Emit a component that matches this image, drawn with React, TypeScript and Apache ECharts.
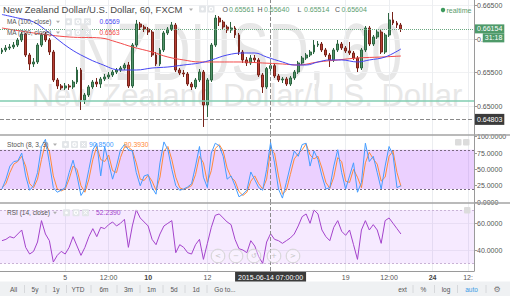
import React, { useEffect, useRef } from "react";
import * as echarts from "echarts";

const FONT = "'Liberation Sans', Arial, sans-serif";

// hourly candles: [open, close, low, high]
const candles: number[][] = [
  [0.65809, 0.65839, 0.65779, 0.65869], [0.65839, 0.65869, 0.65809, 0.65913], [0.65869, 0.65884, 0.65839, 0.65928],
  [0.65884, 0.65913, 0.65854, 0.65958], [0.65913, 0.65988, 0.65884, 0.66018], [0.65988, 0.66078, 0.65958, 0.66107],
  [0.66078, 0.65764, 0.65734, 0.66093], [0.65764, 0.6563, 0.6554, 0.65794], [0.6563, 0.6566, 0.65585, 0.65719],
  [0.6566, 0.65913, 0.6563, 0.65943], [0.65913, 0.66063, 0.65884, 0.66093], [0.66063, 0.65988, 0.65958, 0.66107],
  [0.65988, 0.65809, 0.65764, 0.66018], [0.65809, 0.65391, 0.65361, 0.65839], [0.65391, 0.65302, 0.65257, 0.65421],
  [0.65302, 0.65272, 0.65242, 0.65331], [0.65272, 0.65302, 0.65242, 0.65346], [0.65302, 0.65287, 0.65242, 0.65331],
  [0.65287, 0.65361, 0.65257, 0.65391], [0.65361, 0.6554, 0.65331, 0.65585], [0.6554, 0.65093, 0.64943, 0.6557],
  [0.65093, 0.65167, 0.65033, 0.65197], [0.65167, 0.65287, 0.65137, 0.65316], [0.65287, 0.65361, 0.65257, 0.65391],
  [0.65361, 0.65331, 0.65287, 0.65421], [0.65331, 0.65406, 0.65272, 0.65436], [0.65406, 0.65436, 0.65376, 0.65481],
  [0.65436, 0.65466, 0.65406, 0.6551], [0.65466, 0.6551, 0.65436, 0.6554], [0.6551, 0.6554, 0.65481, 0.6557],
  [0.6554, 0.6557, 0.6551, 0.656], [0.6557, 0.65615, 0.6554, 0.65645], [0.65615, 0.65302, 0.65272, 0.6566],
  [0.65302, 0.65913, 0.65272, 0.65943], [0.65913, 0.66227, 0.65884, 0.66287], [0.66227, 0.66182, 0.66137, 0.66257],
  [0.66182, 0.66152, 0.66107, 0.66212], [0.66152, 0.66107, 0.66063, 0.66182], [0.66107, 0.65764, 0.65734, 0.66137],
  [0.65764, 0.6563, 0.656, 0.65809], [0.6563, 0.65839, 0.656, 0.65869], [0.65839, 0.66093, 0.65809, 0.66122],
  [0.66093, 0.66152, 0.66063, 0.66182], [0.66152, 0.66212, 0.66122, 0.66257], [0.66212, 0.6554, 0.6551, 0.66242],
  [0.6554, 0.65496, 0.65466, 0.6557], [0.65496, 0.65481, 0.65436, 0.6554], [0.65481, 0.65331, 0.65302, 0.6551],
  [0.65331, 0.65287, 0.65242, 0.65361], [0.65287, 0.65391, 0.65257, 0.65421], [0.65391, 0.6551, 0.65361, 0.65555],
  [0.6551, 0.65018, 0.6469, 0.6554], [0.65018, 0.65391, 0.64839, 0.65421], [0.65391, 0.65913, 0.65361, 0.65943],
  [0.65913, 0.66316, 0.65884, 0.66361], [0.66316, 0.66257, 0.66197, 0.66346], [0.66257, 0.66182, 0.66137, 0.66287],
  [0.66182, 0.66137, 0.66093, 0.66212], [0.66137, 0.66167, 0.66093, 0.66257], [0.66167, 0.66063, 0.66018, 0.66197],
  [0.66063, 0.65809, 0.65764, 0.66093], [0.65809, 0.6569, 0.65645, 0.65839], [0.6569, 0.65645, 0.656, 0.65734],
  [0.65645, 0.65719, 0.65615, 0.65764], [0.65719, 0.6569, 0.65645, 0.65764], [0.6569, 0.65466, 0.65436, 0.65719],
  [0.65466, 0.65287, 0.65197, 0.65496], [0.65287, 0.65561, 0.65257, 0.65585], [0.65561, 0.65604, 0.65514, 0.6564],
  [0.65604, 0.65451, 0.65421, 0.6563], [0.65451, 0.65391, 0.65361, 0.65481], [0.65391, 0.65406, 0.65346, 0.65436],
  [0.65406, 0.65331, 0.65302, 0.65436], [0.65331, 0.65421, 0.65302, 0.65451], [0.65421, 0.6551, 0.65391, 0.6554],
  [0.6551, 0.65645, 0.65481, 0.65675], [0.65645, 0.65719, 0.65615, 0.65749], [0.65719, 0.65764, 0.6569, 0.65794],
  [0.65764, 0.65809, 0.65734, 0.65839], [0.65809, 0.65913, 0.65779, 0.65988], [0.65913, 0.65928, 0.65884, 0.65973],
  [0.65928, 0.65839, 0.65809, 0.65958], [0.65839, 0.65764, 0.65734, 0.65869], [0.65764, 0.6569, 0.65585, 0.65794],
  [0.6569, 0.65839, 0.6566, 0.65869], [0.65839, 0.65928, 0.65809, 0.65988], [0.65928, 0.65869, 0.65839, 0.65958],
  [0.65869, 0.65824, 0.65794, 0.65898], [0.65824, 0.65794, 0.65764, 0.65958], [0.65794, 0.65719, 0.6569, 0.65824],
  [0.65719, 0.6557, 0.6551, 0.65749], [0.6557, 0.65839, 0.6554, 0.65869], [0.65839, 0.66167, 0.65809, 0.66197],
  [0.66167, 0.65928, 0.65898, 0.66197], [0.65928, 0.66033, 0.65898, 0.66063], [0.66033, 0.66107, 0.66003, 0.66137],
  [0.66107, 0.65809, 0.65779, 0.66137], [0.65809, 0.66063, 0.65779, 0.66093], [0.66063, 0.66287, 0.66033, 0.66391],
  [0.66287, 0.66242, 0.66212, 0.66406], [0.66242, 0.66212, 0.66167, 0.66272], [0.66212, 0.66154, 0.66107, 0.66242],
];

// moving averages read at candle indices: [index, value]
const ma100: number[][] = [
  [0, 0.66369], [4, 0.66316], [8, 0.66257], [12, 0.66093], [17, 0.65869], [21, 0.65734], [25, 0.6563],
  [30, 0.6554], [34, 0.6554], [38, 0.6557], [42, 0.65585], [46, 0.65615], [50, 0.65645], [53, 0.6569],
  [57, 0.65764], [61, 0.65794], [64, 0.65794], [67, 0.65734], [71, 0.6566], [74, 0.65615], [77, 0.65615],
  [80, 0.6566], [83, 0.6569], [86, 0.6569], [90, 0.6566], [93, 0.6569], [97, 0.65734], [101, 0.65854],
];
const ma200: number[][] = [
  [0, 0.66167], [8, 0.66093], [17, 0.66033], [25, 0.66018], [29, 0.65958], [33, 0.65884], [38, 0.65809],
  [42, 0.65734], [46, 0.6569], [50, 0.6566], [55, 0.6566], [60, 0.6566], [66, 0.65645], [71, 0.6563],
  [75, 0.65615], [80, 0.6566], [85, 0.6569], [90, 0.65719], [96, 0.65734], [101, 0.65749],
];

const stochK: number[] = [
  20, 35, 55, 62, 63, 75, 40, 18, 25, 45, 85, 96, 60, 22, 15, 18, 22, 45, 64, 40,
  10, 20, 50, 80, 90, 40, 85, 60, 35, 55, 80, 88, 80, 78, 45, 25, 40, 42, 22, 12,
  60, 92, 80, 50, 25, 18, 20, 23, 28, 55, 85, 38, 22, 75, 90, 86, 70, 35, 40, 25,
  8, 12, 18, 46, 34, 22, 18, 50, 90.85, 60, 20, 6, 30, 55, 78, 70, 88, 90, 55, 78,
  65, 40, 20, 22, 55, 80, 45, 20, 40, 60, 15, 30, 90, 62, 70, 45, 20, 55, 85, 72, 22, 25,
];
const stochD: number[] = [
  22, 28, 45, 58, 62, 70, 55, 28, 22, 35, 65, 90, 78, 40, 20, 17, 20, 35, 55, 50,
  25, 15, 35, 65, 85, 65, 62, 72, 48, 45, 68, 84, 84, 79, 60, 35, 33, 41, 32, 18,
  38, 78, 85, 65, 38, 22, 19, 22, 25, 42, 70, 60, 30, 48, 82, 88, 78, 52, 38, 32,
  16, 10, 15, 32, 40, 28, 20, 35, 80.39, 75, 40, 12, 18, 42, 66, 74, 80, 89, 72, 66,
  70, 52, 30, 21, 38, 68, 62, 32, 30, 50, 38, 22, 60, 76, 66, 58, 32, 38, 70, 78, 45, 24,
];
const rsiValues: number[] = [
  47, 48, 50, 49, 52, 55, 42, 37, 39, 46, 62, 52, 47, 31, 36, 39, 37, 42, 50, 43,
  36, 42, 50, 56, 50, 57, 56, 59, 61, 58, 60, 63, 42, 58, 70, 64, 61, 58, 48, 44,
  52, 58, 60, 62, 38, 44, 42, 38, 37, 44, 48, 33, 45, 57, 66, 67, 64, 61, 59, 48,
  41, 40, 38, 47, 43, 35, 30, 46, 52.239, 48, 47, 45, 47, 49, 52, 58, 65, 67, 60, 70,
  67, 55, 50, 47, 57, 62, 54, 51, 55, 44, 33, 55, 62, 55, 59, 55, 45, 62, 64, 60, 56, 52,
];

const timeTickIdx = [16, 27, 37, 52, 87, 98, 109, 118];
const timeTickText = ["5", "12:00", "10", "12", "19", "12:00", "24", "12:"];
const timeTickBold = [false, false, true, false, false, false, true, false];
const priceTicks = [0.65, 0.655, 0.66, 0.665];
const stochTicks = [0, 25, 50, 75, 100];
const rsiTicks = [40, 60];

const lastPrice = 0.66154;
const countdown = "31:18";
const crossPrice = 0.64803;
const crossIdx = 68;
const crossTime = "2015-06-14 07:00:00";
const drawnLevel = 0.6508;

const titleText = "New Zealand Dollar/U.S. Dollar, 60, FXCM";
const ohlcLetters = ["O", "H", "L", "C"];
const ohlcValues = ["0.65561", "0.65640", "0.65514", "0.65604"];
const maNames = ["MA (100, close)", "MA (200, close)"];
const maValues = ["0.6569", "0.6563"];
const stochName = "Stoch (8, 3, 3)";
const stochValues = ["90.8500", "80.3930"];
const rsiName = "RSI (14, close)";
const rsiValueText = "52.2390";
const rangeButtons = ["All", "5y", "1y", "YTD", "6m", "3m", "1m", "5d", "1d", "Go to..."];
const rightButtons = ["ext", "%", "log", "auto"];

const BLUE = "#4646f2";
const RED = "#f24a4a";
const K_COL = "#459dff";
const D_COL = "#ff8a3a";
const RSI_COL = "#a443cc";
const GREEN_TXT = "#5c9e70";
const WATERMARK = "#e7e7e7";

function T(x: number, y: number, text: string, size: number, fill: string, extra: any = {}) {
  return {
    type: "text", x, y, z: 50, silent: true,
    style: { text, fontSize: size, fill, fontFamily: FONT, verticalAlign: "middle", align: "left", ...extra },
  };
}
function box(x: number, y: number, w = 7, h = 7, fill = "#e3e6e9") {
  return { type: "rect", z: 50, silent: true, shape: { x, y, width: w, height: h, r: 1 }, style: { fill } };
}
function iconRow(xs: number[], y: number) {
  const out: any[] = [];
  xs.forEach((x, k) => {
    out.push(box(x, y));
    if (k === 0) out.push({ type: "circle", z: 51, silent: true, shape: { cx: x + 3.5, cy: y + 3.5, r: 1.4 }, style: { fill: "#fff" } });
    if (k === 1) out.push({ type: "ring", z: 51, silent: true, shape: { cx: x + 3.5, cy: y + 3.5, r: 2.2, r0: 1 }, style: { fill: "#fff" } });
    if (k === 2) {
      out.push({ type: "line", z: 51, silent: true, shape: { x1: x + 1.8, y1: y + 1.8, x2: x + 5.2, y2: y + 5.2 }, style: { stroke: "#fff", lineWidth: 1 } });
      out.push({ type: "line", z: 51, silent: true, shape: { x1: x + 5.2, y1: y + 1.8, x2: x + 1.8, y2: y + 5.2 }, style: { stroke: "#fff", lineWidth: 1 } });
    }
  });
  return out;
}
function caret(x: number, y: number) {
  return { type: "polygon", z: 50, silent: true, shape: { points: [[x, y - 1], [x + 4, y - 1], [x + 2, y + 1.5]] }, style: { fill: "#b0b0b0" } };
}

function buildGraphic() {
  const g: any[] = [];
  // watermark
  g.push({ type: "text", x: 239, y: 52, scaleY: 1.45, z: 0, silent: true,
    style: { text: "NZDUSD, 60", fontSize: 56, fill: WATERMARK, fontFamily: FONT, align: "center", verticalAlign: "middle" } });
  g.push({ type: "text", x: 247, y: 95, z: 0, silent: true,
    style: { text: "New Zealand Dollar/U.S. Dollar", fontSize: 31, fill: WATERMARK, fontFamily: FONT, align: "center", verticalAlign: "middle" } });

  // title row
  g.push(T(3, 9.5, titleText, 9.5, "#4a4a4a"));
  g.push(caret(189, 9.5));
  g.push(...iconRow([199, 207.5], 5.5).filter((_, k) => k < 4));
  const ohlcX = [222.5, 257.5, 297.5, 335];
  ohlcLetters.forEach((l, k) => {
    g.push(T(ohlcX[k], 9.5, l, 7, "#555"));
    g.push(T(ohlcX[k] + 6.5, 9.5, ohlcValues[k], 7, GREEN_TXT));
  });
  g.push({ type: "circle", z: 50, silent: true, shape: { cx: 443, cy: 10, r: 2.2 }, style: { fill: "#3f9a5f" } });
  g.push(T(446.5, 10, "realtime", 7, "#5a9a6c"));

  // MA legends
  const maCols = [BLUE, RED];
  maNames.forEach((n, k) => {
    const y = 21.7 + k * 10.8;
    g.push(T(7, y, n, 6.4, "#555"));
    g.push(caret(56, y));
    g.push(...iconRow([65, 74.5, 84], y - 3.5));
    g.push(T(99.5, y, maValues[k], 6.6, maCols[k]));
  });

  // stoch legend
  g.push(T(7, 144.5, stochName, 6.6, "#555"));
  g.push(caret(53, 144.5));
  g.push(...iconRow([62, 71, 80], 141));
  g.push(T(89, 144.5, stochValues[0], 6.8, K_COL));
  g.push(T(124, 144.5, stochValues[1], 6.8, D_COL));
  g.push(box(455, 139, 6.5, 6.5, "#dcdcdc"), box(463, 139, 6.5, 6.5, "#dcdcdc"));

  // rsi legend
  g.push(T(7, 212.7, rsiName, 6.5, "#555"));
  g.push(caret(53, 212.7));
  g.push(...iconRow([63, 72.5, 82], 209.2));
  g.push(T(96, 212.7, rsiValueText, 6.8, RSI_COL));
  g.push(box(464, 207, 6.5, 6.5, "#dcdcdc"));

  // navigation buttons
  const navX = [218, 236, 254, 274, 293];
  const navG = ["<", "−", "↺", "+", ">"];
  navX.forEach((cx, k) => {
    g.push({ type: "circle", z: 45, silent: true, shape: { cx, cy: 256, r: 6.8 },
      style: { fill: "rgba(255,255,255,0.35)", stroke: "#d2d2d2", lineWidth: 1 } });
    g.push(T(cx, 256.3, navG[k], 7, "#c4c4c4", { align: "center", fontFamily: "'DejaVu Sans', sans-serif" }));
  });

  // pane dividers
  [135, 203].forEach((y) => {
    g.push({ type: "line", z: 60, silent: true, shape: { x1: 0, y1: y, x2: 510, y2: y }, style: { stroke: "#a3a3a3", lineWidth: 1.5 } });
  });

  // bottom toolbar
  g.push({ type: "rect", z: 40, silent: true, shape: { x: 0, y: 281.5, width: 510, height: 15 }, style: { fill: "#eff1f3" } });
  const rbX = [13.5, 35, 56, 78, 104, 128.5, 151.5, 174, 196, 225];
  rangeButtons.forEach((t, k) => g.push(T(rbX[k], 289, t, 6.5, "#555", { align: "center" })));
  [24.5, 46, 66.5, 91, 117, 140, 163, 185, 207].forEach((x) =>
    g.push({ type: "line", z: 41, silent: true, shape: { x1: x, y1: 285, x2: x, y2: 293 }, style: { stroke: "#d6d8db", lineWidth: 1 } }));
  const rtX = [402.5, 423.5, 446, 471.5];
  rightButtons.forEach((t, k) => g.push(T(rtX[k], 289, t, 6.5, k === 3 ? "#3a9be6" : "#555", { align: "center" })));
  [413, 434.5, 457.5, 486].forEach((x) =>
    g.push({ type: "line", z: 41, silent: true, shape: { x1: x, y1: 285, x2: x, y2: 293 }, style: { stroke: "#d6d8db", lineWidth: 1 } }));
  g.push(T(497, 289, "⚙", 8, "#777", { align: "center", fontFamily: "'DejaVu Sans', sans-serif" }));
  return g;
}

function buildOption(): any {
  const grids = [
    { left: 0, top: 0, width: 474, height: 135 },
    { left: 0, top: 135, width: 474, height: 68 },
    { left: 0, top: 203, width: 474, height: 68 },
  ].map((g) => ({ ...g, containLabel: false, outerBoundsMode: "none" }));

  const xAxis = [0, 1, 2].map((gi) => ({
    type: "value", gridIndex: gi, min: -0.5, max: 119.5,
    axisLine: { show: gi === 2, onZero: false, lineStyle: { color: "#9a9a9a", width: 1 } },
    axisTick: { show: false, customValues: timeTickIdx },
    axisLabel: {
      show: gi === 2, customValues: timeTickIdx, margin: 3, fontSize: 7, color: "#555", fontFamily: FONT,
      formatter: (v: number) => {
        const k = timeTickIdx.indexOf(Math.round(v));
        if (k < 0) return "";
        return timeTickBold[k] ? `{b|${timeTickText[k]}}` : timeTickText[k];
      },
      rich: { b: { fontWeight: "bold", fontSize: 7, color: "#444", fontFamily: FONT } },
    },
    splitLine: { show: true, lineStyle: { color: "#eceef1", width: 1 } },
  }));

  const yCommon = (gi: number, min: number, max: number, ticks: number[], digits: number, split: boolean) => ({
    type: "value", gridIndex: gi, position: "right", min, max,
    axisLine: { show: true, onZero: false, lineStyle: { color: "#9a9a9a", width: 1 } },
    axisTick: { show: true, length: 3, customValues: ticks, lineStyle: { color: "#9a9a9a" } },
    axisLabel: { customValues: ticks, margin: 3, fontSize: 7, color: "#555", fontFamily: FONT,
      formatter: (v: number) => v.toFixed(digits) },
    splitLine: { show: split, lineStyle: { color: "#f0f1f3", width: 1 } },
  });
  const yAxis = [
    yCommon(0, 0.6457, 0.66585, priceTicks, 5, true),
    yCommon(1, -1.5, 102.6, stochTicks, 4, false),
    yCommon(2, 24.3, 75.2, rsiTicks, 4, true),
  ];

  const crossLine = { color: "#8a8a8a", type: "dashed", width: 1 };

  const series: any[] = [
    {
      type: "candlestick", xAxisIndex: 0, yAxisIndex: 0, z: 2, silent: true,
      data: candles.map((c, i) => [i, c[0], c[1], c[2], c[3]]),
      barWidth: 2.4,
      itemStyle: { color: "#53946a", color0: "#b83f35", borderColor: "#2c6540", borderColor0: "#77231a", borderWidth: 1 },
    },
    {
      type: "line", xAxisIndex: 0, yAxisIndex: 0, data: ma200, smooth: 0.4, symbol: "none", z: 4, silent: true,
      lineStyle: { color: RED, width: 1 },
      markLine: {
        silent: true, symbol: ["none", "none"], animation: false, precision: 5,
        label: { show: false },
        data: [
          { yAxis: drawnLevel, lineStyle: { color: "#80cdb0", width: 1.5, type: "solid" } },
          {
            yAxis: lastPrice, lineStyle: { color: "#6aa880", width: 1, type: "dotted" },
            label: {
              show: true, position: "end", distance: 1, offset: [0, 4.5],
              formatter: `{p|${lastPrice.toFixed(5)}}\n{t|${countdown}}`,
              rich: {
                p: { backgroundColor: "#4e9a69", color: "#fff", fontSize: 7, padding: [1, 2], lineHeight: 9, fontFamily: FONT },
                t: { backgroundColor: "#4e9a69", color: "#fff", fontSize: 7, padding: [1, 2], lineHeight: 9, align: "right", fontFamily: FONT },
              },
            },
          },
          {
            yAxis: crossPrice, lineStyle: crossLine,
            label: { show: true, position: "end", distance: 1, formatter: crossPrice.toFixed(5), backgroundColor: "#3b3b3b",
              color: "#fff", fontSize: 7, padding: [2, 2], fontFamily: FONT },
          },
          { xAxis: crossIdx, lineStyle: crossLine },
        ],
      },
    },
    { type: "line", xAxisIndex: 0, yAxisIndex: 0, data: ma100, smooth: 0.4, symbol: "none", z: 4, silent: true,
      lineStyle: { color: BLUE, width: 1 } },
    {
      type: "line", xAxisIndex: 1, yAxisIndex: 1, data: stochD.map((v, i) => [i, v]), symbol: "none", z: 4, silent: true,
      lineStyle: { color: D_COL, width: 1 },
      markArea: { silent: true, itemStyle: { color: "rgba(153,21,255,0.2)" }, data: [[{ yAxis: 20 }, { yAxis: 80 }]] },
      markLine: { silent: true, symbol: ["none", "none"], label: { show: false },
        data: [
          { yAxis: 20, lineStyle: { color: "#7a6a80", type: [2, 2], width: 1 } },
          { yAxis: 80, lineStyle: { color: "#7a6a80", type: [2, 2], width: 1 } },
          { xAxis: crossIdx, lineStyle: crossLine },
        ] },
    },
    { type: "line", xAxisIndex: 1, yAxisIndex: 1, data: stochK.map((v, i) => [i, v]), symbol: "none", z: 5, silent: true,
      lineStyle: { color: K_COL, width: 1 } },
    {
      type: "line", xAxisIndex: 2, yAxisIndex: 2, data: rsiValues.map((v, i) => [i, v]), symbol: "none", z: 4, silent: true,
      lineStyle: { color: RSI_COL, width: 1 },
      markArea: { silent: true, itemStyle: { color: "rgba(153,21,255,0.09)" }, data: [[{ yAxis: 30 }, { yAxis: 70 }]] },
      markLine: { silent: true, symbol: ["none", "none"], label: { show: false },
        data: [
          { yAxis: 30, lineStyle: { color: "#c9b3d6", type: [2, 2], width: 1 } },
          { yAxis: 70, lineStyle: { color: "#c9b3d6", type: [2, 2], width: 1 } },
          { xAxis: crossIdx, lineStyle: crossLine,
            label: { show: true, position: "start", distance: 1, formatter: crossTime, backgroundColor: "#3b3b3b",
              color: "#fff", fontSize: 7, padding: [2, 3], fontFamily: FONT } },
        ] },
    },
  ];

  return {
    animation: false,
    backgroundColor: "#ffffff",
    grid: grids,
    xAxis,
    yAxis,
    series,
    graphic: buildGraphic(),
  };
}

export default function App() {
  const ref = useRef<HTMLDivElement>(null);
  useEffect(() => {
    document.body.style.margin = "0";
    const chart = echarts.init(ref.current as HTMLDivElement, null, { renderer: "svg" });
    chart.setOption(buildOption());
    return () => chart.dispose();
  }, []);
  return <div ref={ref} style={{ width: 510, height: 296, position: "absolute", left: 0, top: 0, background: "#fff" }} />;
}
